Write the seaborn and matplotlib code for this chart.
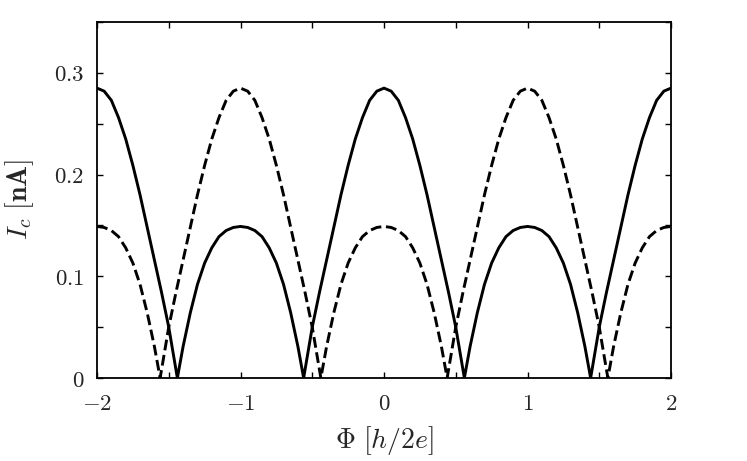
import matplotlib
matplotlib.use("Agg")
import matplotlib.pyplot as plt
import seaborn as sns
import pandas as pd
from matplotlib.ticker import MultipleLocator

# ---- data ----
phi_solid = [-2.00, -1.95, -1.90, -1.85, -1.80, -1.75, -1.70, -1.65, -1.60, -1.55, -1.50, -1.44,
             -1.40, -1.35, -1.30, -1.25, -1.20, -1.15, -1.10, -1.05, -1.00,
             -0.95, -0.90, -0.85, -0.80, -0.75, -0.70, -0.65, -0.60, -0.56,
             -0.50, -0.45, -0.40, -0.35, -0.30, -0.25, -0.20, -0.15, -0.10, -0.05, 0.00,
             0.05, 0.10, 0.15, 0.20, 0.25, 0.30, 0.35, 0.40, 0.45, 0.50, 0.56,
             0.60, 0.65, 0.70, 0.75, 0.80, 0.85, 0.90, 0.95, 1.00,
             1.05, 1.10, 1.15, 1.20, 1.25, 1.30, 1.35, 1.40, 1.44,
             1.50, 1.55, 1.60, 1.65, 1.70, 1.75, 1.80, 1.85, 1.90, 1.95, 2.00]
ic_solid = [0.285, 0.282, 0.273, 0.256, 0.235, 0.209, 0.180, 0.148, 0.116, 0.084, 0.050, 0.000,
            0.031, 0.064, 0.092, 0.113, 0.128, 0.139, 0.145, 0.148, 0.149,
            0.148, 0.145, 0.139, 0.128, 0.113, 0.092, 0.064, 0.031, 0.000,
            0.050, 0.084, 0.116, 0.148, 0.180, 0.209, 0.235, 0.256, 0.273, 0.282, 0.285,
            0.282, 0.273, 0.256, 0.235, 0.209, 0.180, 0.148, 0.116, 0.084, 0.050, 0.000,
            0.031, 0.064, 0.092, 0.113, 0.128, 0.139, 0.145, 0.148, 0.149,
            0.148, 0.145, 0.139, 0.128, 0.113, 0.092, 0.064, 0.031, 0.000,
            0.050, 0.084, 0.116, 0.148, 0.180, 0.209, 0.235, 0.256, 0.273, 0.282, 0.285]

phi_dashed = [-2.00, -1.95, -1.90, -1.85, -1.80, -1.75, -1.70, -1.65, -1.60, -1.56,
              -1.50, -1.45, -1.40, -1.35, -1.30, -1.25, -1.20, -1.15, -1.10, -1.05, -1.00,
              -0.95, -0.90, -0.85, -0.80, -0.75, -0.70, -0.65, -0.60, -0.55, -0.50, -0.44,
              -0.40, -0.35, -0.30, -0.25, -0.20, -0.15, -0.10, -0.05, 0.00,
              0.05, 0.10, 0.15, 0.20, 0.25, 0.30, 0.35, 0.40, 0.44,
              0.50, 0.55, 0.60, 0.65, 0.70, 0.75, 0.80, 0.85, 0.90, 0.95, 1.00,
              1.05, 1.10, 1.15, 1.20, 1.25, 1.30, 1.35, 1.40, 1.45, 1.50, 1.56,
              1.60, 1.65, 1.70, 1.75, 1.80, 1.85, 1.90, 1.95, 2.00]
ic_dashed = [0.149, 0.148, 0.145, 0.139, 0.128, 0.113, 0.092, 0.064, 0.031, 0.000,
             0.050, 0.084, 0.116, 0.148, 0.180, 0.209, 0.235, 0.256, 0.273, 0.282, 0.285,
             0.282, 0.273, 0.256, 0.235, 0.209, 0.180, 0.148, 0.116, 0.084, 0.050, 0.000,
             0.031, 0.064, 0.092, 0.113, 0.128, 0.139, 0.145, 0.148, 0.149,
             0.148, 0.145, 0.139, 0.128, 0.113, 0.092, 0.064, 0.031, 0.000,
             0.050, 0.084, 0.116, 0.148, 0.180, 0.209, 0.235, 0.256, 0.273, 0.282, 0.285,
             0.282, 0.273, 0.256, 0.235, 0.209, 0.180, 0.148, 0.116, 0.084, 0.050, 0.000,
             0.031, 0.064, 0.092, 0.113, 0.128, 0.139, 0.145, 0.148, 0.149]

x_ticks = [-2, -1, 0, 1, 2]
x_ticklabels = [r"$-2$", r"$-1$", r"$0$", r"$1$", r"$2$"]
y_ticks = [0, 0.1, 0.2, 0.3]
y_ticklabels = [r"$0$", r"$0.1$", r"$0.2$", r"$0.3$"]
x_label = r"$\Phi\ [h/2e]$"
y_label = r"$I_c\ \mathbf{[nA]}$"

# ---- style ----
sns.set_theme(style="ticks")
plt.rcParams["mathtext.fontset"] = "cm"
plt.rcParams["font.family"] = ["DejaVu Serif"]

fig = plt.figure(figsize=(7.47, 4.61), dpi=100)
ax = fig.add_axes([97 / 747, 1 - 378 / 461, (671 - 97) / 747, (378 - 22) / 461])

df_s = pd.DataFrame({"phi": phi_solid, "ic": ic_solid})
df_d = pd.DataFrame({"phi": phi_dashed, "ic": ic_dashed})
sns.lineplot(data=df_s, x="phi", y="ic", color="black", lw=2.1, ax=ax)
sns.lineplot(data=df_d, x="phi", y="ic", color="black", lw=2.1, ls="--", ax=ax)

ax.set_xlim(-2, 2)
ax.set_ylim(0, 0.35)
ax.set_xticks(x_ticks, labels=x_ticklabels)
ax.set_yticks(y_ticks, labels=y_ticklabels)
ax.xaxis.set_minor_locator(MultipleLocator(0.5))
ax.yaxis.set_minor_locator(MultipleLocator(0.05))
ax.tick_params(which="both", direction="in", top=True, right=True, length=4.5,
               width=1.0, color="black", labelsize=16.5)
ax.tick_params(axis="x", which="both", pad=11)
ax.tick_params(axis="y", which="both", pad=9)
for s in ax.spines.values():
    s.set_linewidth(1.3)
    s.set_color("black")

ax.set_xlabel(x_label, fontsize=20, labelpad=6)
ax.set_ylabel(y_label, fontsize=20, labelpad=13)

fig.savefig("out.png", dpi=100)
